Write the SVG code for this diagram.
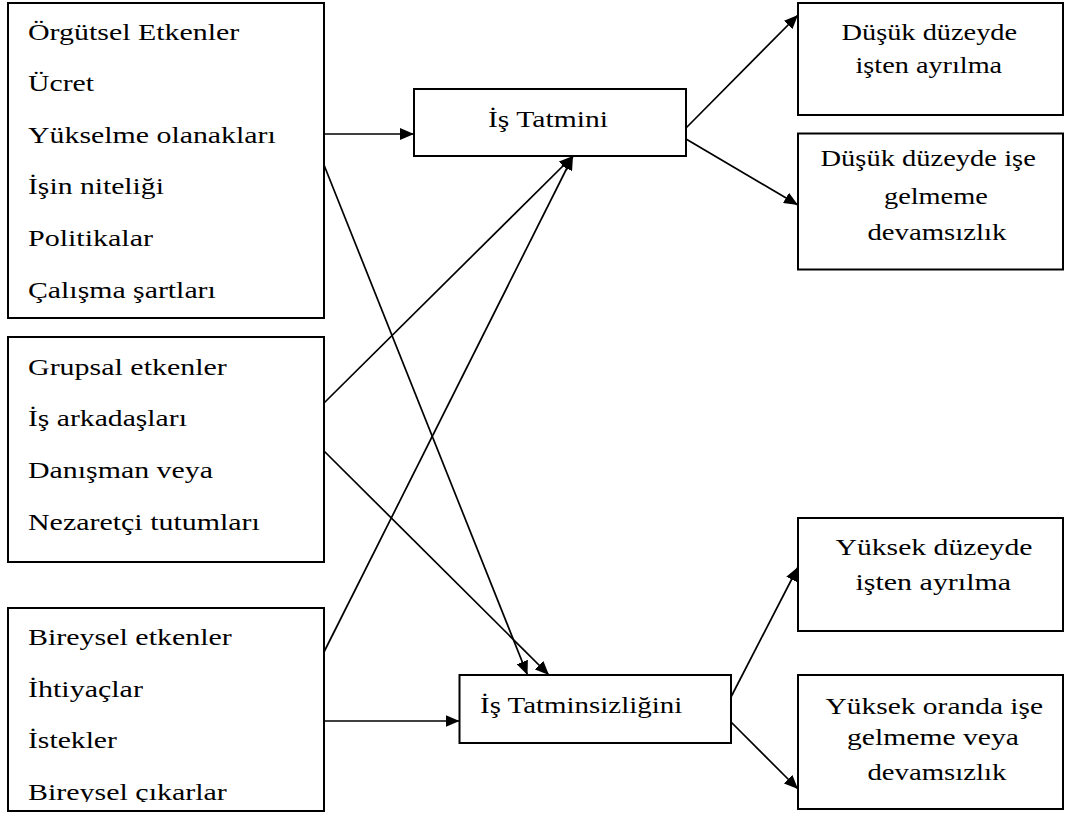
<svg xmlns="http://www.w3.org/2000/svg" width="1065" height="816" viewBox="0 0 1065 816">
<style>
.box{fill:#fff;stroke:#000;stroke-width:2}
.t{font-family:"Liberation Serif","Times New Roman",serif;font-size:24px;fill:#000}
.c{stroke:#000;stroke-width:1.7;fill:none;marker-end:url(#ah)}
</style>
<defs>
<marker id="ah" markerUnits="userSpaceOnUse" markerWidth="14" markerHeight="12" refX="14" refY="6" orient="auto" viewBox="0 0 14 12">
<path d="M0,0 L14,6 L0,12 z" fill="#000"/>
</marker>
<clipPath id="clip3"><rect x="0" y="600" width="330" height="202"/></clipPath>
</defs>
<rect width="1065" height="816" fill="#fff"/>
<g id="connectors">
<line class="c" x1="324" y1="134" x2="414" y2="134"/>
<line class="c" x1="324" y1="165" x2="527.5" y2="675"/>
<line class="c" x1="324" y1="403" x2="573" y2="156"/>
<line class="c" x1="324" y1="451" x2="549" y2="675"/>
<line class="c" x1="324" y1="652" x2="573" y2="156"/>
<line class="c" x1="324" y1="721" x2="459.5" y2="721"/>
<line class="c" x1="686" y1="128" x2="798" y2="15"/>
<line class="c" x1="686" y1="139" x2="798" y2="205"/>
<line class="c" x1="731" y1="697" x2="798" y2="567"/>
<line class="c" x1="731" y1="722" x2="798" y2="789"/>
</g>
<g id="orgutsel">
<rect class="box" x="8" y="3" width="316" height="315"/>
<text class="t" transform="translate(28,40) scale(1.247,1)">Örgütsel Etkenler</text>
<text class="t" transform="translate(28,91) scale(1.238,1)">Ücret</text>
<text class="t" transform="translate(28,143) scale(1.244,1)">Yükselme olanakları</text>
<text class="t" transform="translate(28,194) scale(1.236,1)">İşin niteliği</text>
<text class="t" transform="translate(28,246) scale(1.25,1)">Politikalar</text>
<text class="t" transform="translate(28,298) scale(1.242,1)">Çalışma şartları</text>
</g>
<g id="grupsal">
<rect class="box" x="8" y="337" width="316" height="225"/>
<text class="t" transform="translate(28,375) scale(1.249,1)">Grupsal etkenler</text>
<text class="t" transform="translate(28,426) scale(1.236,1)">İş arkadaşları</text>
<text class="t" transform="translate(28,478) scale(1.245,1)">Danışman veya</text>
<text class="t" transform="translate(28,530) scale(1.248,1)">Nezaretçi tutumları</text>
</g>
<g id="bireysel">
<rect class="box" x="8" y="608" width="316" height="203"/>
<text class="t" transform="translate(28,645) scale(1.249,1)">Bireysel etkenler</text>
<text class="t" transform="translate(28,697) scale(1.25,1)">İhtiyaçlar</text>
<text class="t" transform="translate(28,748) scale(1.236,1)">İstekler</text>
<g clip-path="url(#clip3)"><text class="t" transform="translate(28,800) scale(1.249,1)">Bireysel çıkarlar</text></g>
</g>
<g id="is-tatmini">
<rect class="box" x="414" y="89" width="272" height="67"/>
<text class="t" transform="translate(488,127) scale(1.235,1)">İş Tatmini</text>
</g>
<g id="is-tatminsizligini">
<rect class="box" x="459.5" y="675" width="271.5" height="68"/>
<text class="t" transform="translate(480,713) scale(1.205,1)">İş Tatminsizliğini</text>
</g>
<g id="dusuk-ayrilma">
<rect class="box" x="798" y="3" width="265" height="112"/>
<text class="t" transform="translate(841.5,39.5) scale(1.182,1)">Düşük düzeyde</text>
<text class="t" transform="translate(855.5,73) scale(1.177,1)">işten ayrılma</text>
</g>
<g id="dusuk-devamsizlik">
<rect class="box" x="798" y="133.5" width="265" height="136"/>
<text class="t" transform="translate(820.5,166) scale(1.188,1)">Düşük düzeyde işe</text>
<text class="t" transform="translate(884,203.5) scale(1.18,1)">gelmeme</text>
<text class="t" transform="translate(867.5,240) scale(1.198,1)">devamsızlık</text>
</g>
<g id="yuksek-ayrilma">
<rect class="box" x="798" y="518" width="265" height="113"/>
<text class="t" transform="translate(835.5,555) scale(1.237,1)">Yüksek düzeyde</text>
<text class="t" transform="translate(855.5,590) scale(1.249,1)">işten ayrılma</text>
</g>
<g id="yuksek-devamsizlik">
<rect class="box" x="798" y="675" width="265" height="134"/>
<text class="t" transform="translate(825.5,713.5) scale(1.228,1)">Yüksek oranda işe</text>
<text class="t" transform="translate(847,745) scale(1.235,1)">gelmeme veya</text>
<text class="t" transform="translate(867.5,779.5) scale(1.198,1)">devamsızlık</text>
</g>
</svg>
